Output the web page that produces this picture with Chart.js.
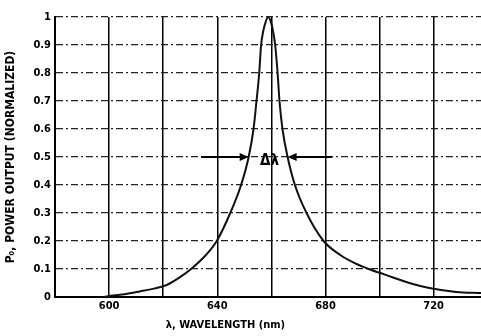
<!DOCTYPE html>
<html>
<head>
<meta charset="utf-8">
<script src="https://cdn.jsdelivr.net/npm/chart.js@4.4.1/dist/chart.umd.min.js"></script>
<style>
  html, body { margin: 0; padding: 0; background: #fff; }
</style>
</head>
<body>
<canvas id="spectrumChart" width="481" height="336"></canvas>
<script>
// Curva (comprimento de onda em nm, potência normalizada)
const wavelengths = [598, 601.4, 605.8, 611.4, 616.5, 621.3, 626.1, 630.3, 635.8, 639.8, 644.8, 648.8, 651.6, 653.4, 654.5, 655.5, 656.2, 657.0, 657.8, 658.8, 659.9, 660.6, 661.4, 662.3, 663.0, 664.1, 666.0, 668.7, 673.0, 679.3, 685.5, 691.0, 696.0, 702.0, 711.0, 718.4, 728.3, 737.5];
const powerOutput = [0, 0.005, 0.010, 0.020, 0.030, 0.043, 0.070, 0.100, 0.150, 0.200, 0.300, 0.400, 0.500, 0.600, 0.700, 0.800, 0.900, 0.950, 0.980, 1.000, 0.980, 0.950, 0.900, 0.800, 0.700, 0.600, 0.500, 0.400, 0.300, 0.200, 0.150, 0.120, 0.100, 0.080, 0.050, 0.032, 0.018, 0.014];

// Eixos
const xLabelValues = [600, 640, 680, 720];
const xRange = [580, 737.5];
const yRange = [0, 1];

// Setas da largura a meia altura (início e ponta de cada seta, em nm)
const halfMaxLevel = 0.5;
const leftArrow = [634, 651.6];
const rightArrow = [682.5, 666.0];
const deltaLabelAt = [659.3, 0.485];

const fontFamily = '"DejaVu Sans Condensed", "DejaVu Sans", sans-serif';

const points = wavelengths.map((w, i) => ({ x: w, y: powerOutput[i] }));

// Plugin: setas, rótulo Δλ e título do eixo x (deslocado para a esquerda como no original)
const fwhmArrows = {
    id: 'fwhmArrows',
    afterDatasetsDraw(chart) {
        const { ctx, scales: { x, y } } = chart;
        const yy = y.getPixelForValue(halfMaxLevel);
        ctx.save();
        ctx.strokeStyle = '#000';
        ctx.fillStyle = '#000';
        ctx.lineWidth = 2;
        [leftArrow, rightArrow].forEach(function (arrow) {
            const x0 = x.getPixelForValue(arrow[0]);
            const x1 = x.getPixelForValue(arrow[1]);
            const dir = Math.sign(x1 - x0);
            ctx.beginPath();
            ctx.moveTo(x0, yy);
            ctx.lineTo(x1 - dir * 6, yy);
            ctx.stroke();
            ctx.beginPath();
            ctx.moveTo(x1, yy);
            ctx.lineTo(x1 - dir * 9, yy - 4);
            ctx.lineTo(x1 - dir * 9, yy + 4);
            ctx.closePath();
            ctx.fill();
        });
        ctx.font = 'bold 15px ' + fontFamily;
        ctx.textAlign = 'center';
        ctx.textBaseline = 'middle';
        ctx.fillText('Δλ', x.getPixelForValue(deltaLabelAt[0]), y.getPixelForValue(deltaLabelAt[1]));
        ctx.restore();
    },
    afterDraw(chart) {
        const { ctx, scales: { x } } = chart;
        ctx.save();
        ctx.fillStyle = '#000';
        ctx.font = 'bold 11px ' + fontFamily;
        ctx.textAlign = 'center';
        ctx.textBaseline = 'middle';
        ctx.fillText('λ, WAVELENGTH (nm)', x.getPixelForValue(643), 325);
        ctx.restore();
    }
};

const config = {
    type: 'line',
    data: {
        datasets: [{
            data: points,
            borderColor: '#111',
            borderWidth: 2,
            pointRadius: 0,
            fill: false,
            cubicInterpolationMode: 'monotone'
        }]
    },
    options: {
        responsive: false,
        animation: false,
        layout: { padding: { top: 17, right: 0, bottom: 0, left: 0 } },
        plugins: {
            legend: { display: false },
            tooltip: { enabled: false }
        },
        scales: {
            x: {
                type: 'linear',
                min: xRange[0],
                max: xRange[1],
                afterFit: function (scale) {
                    scale.height = 39;
                    scale.paddingRight = 0;
                },
                ticks: {
                    stepSize: 20,
                    includeBounds: false,
                    color: '#000',
                    padding: 3,
                    maxRotation: 0,
                    autoSkip: false,
                    font: { family: fontFamily, size: 11, weight: 'bold' },
                    callback: function (value) {
                        return xLabelValues.includes(value) ? String(value) : '';
                    }
                },
                grid: {
                    drawTicks: false,
                    lineWidth: 1.5,
                    color: '#000'
                },
                border: { display: true, color: '#000', width: 2 }
            },
            y: {
                min: yRange[0],
                max: yRange[1],
                afterFit: function (scale) { scale.width = 55; },
                ticks: {
                    stepSize: 0.1,
                    color: '#000',
                    padding: 4,
                    font: { family: fontFamily, size: 11, weight: 'bold' },
                    callback: function (value) {
                        if (value === 0) return '0';
                        if (value === 1) return '1';
                        return value.toFixed(1);
                    }
                },
                grid: {
                    drawTicks: false,
                    lineWidth: 1.2,
                    color: '#222'
                },
                border: { display: true, color: '#000', width: 2, dash: [7, 3, 2, 3] },
                title: {
                    display: true,
                    text: 'P₀, POWER OUTPUT (NORMALIZED)',
                    color: '#000',
                    padding: { top: 4, bottom: 2 },
                    font: { family: fontFamily, size: 12, weight: 'bold' }
                }
            }
        }
    },
    plugins: [fwhmArrows]
};

const spectrumChart = new Chart(document.getElementById('spectrumChart'), config);
</script>
</body>
</html>
